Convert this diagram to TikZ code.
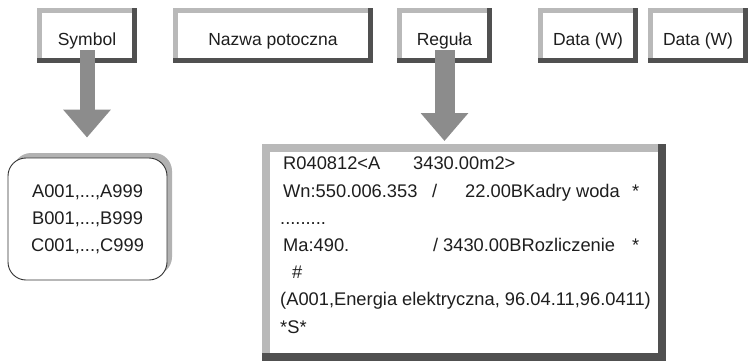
\documentclass[tikz,border=0pt]{standalone}
\usepackage{fontspec}
\setmainfont{Liberation Sans}
\usetikzlibrary{arrows.meta, positioning, shadows}
\definecolor{bevlight}{RGB}{185, 185, 185}
\definecolor{bevdark}{RGB}{80, 80, 80}
\definecolor{arrgray}{RGB}{140, 140, 140}
\definecolor{txtgray}{RGB}{30, 30, 30}

\begin{document}
\begin{tikzpicture}[x=1pt, y=-1pt,
      field/.style={
        rectangle, draw=bevlight, fill=white, line width=5pt, outer sep=0pt,
        minimum width=95pt, minimum height=50pt, inner sep=0pt,
        text height=20pt, text depth=0pt,
        font=\fontsize{17.5}{20}\selectfont, text=txtgray
      },
      bigfield/.style={
        rectangle, draw=bevlight, fill=white, line width=8pt, outer sep=0pt,
        minimum width=396pt, minimum height=209pt
      },
      listbox/.style={
        rectangle, rounded corners=18pt, draw=black!80, fill=white, line width=0.9pt,
        minimum width=159pt, minimum height=122pt, align=center,
        general shadow={fill=gray!60, shadow xshift=5pt, shadow yshift=5pt},
        font=\fontsize{18.3}{27}\selectfont, text=txtgray
      },
      regtext/.style={
        align=left, inner sep=0pt, font=\fontsize{18.3}{27.2}\selectfont, text=txtgray
      },
      edge5/.style={draw=bevdark, line width=5pt, line cap=rect},
      edge8/.style={draw=bevdark, line width=8pt, line cap=rect},
      downarr/.style={-{Triangle[length=28pt, width=46pt]}, draw=arrgray}
  ]
    \useasboundingbox (0,0) rectangle (749,361);

    % top row of fields
    \node[field] (sym) at (87,35.5) {Symbol};
    \node[field, minimum width=195pt] (naz) [right=41pt of sym] {Nazwa potoczna};
    \node[field, minimum width=90pt] (reg) [right=29pt of naz] {Reguła};
    \node[field] (dat1) [right=51pt of reg] {Data (W)};
    \node[field] (dat2) [right=15pt of dat1] {Data (W)};

    % symbol list and rule record
    \node[listbox] (syms) at (87.5,219) {A001,...,A999\\B001,...,B999\\C001,...,C999};
    \node[bigfield] (regbox) at (464,252.5) {};
    \node[regtext, anchor=north west] (regtxt) at (283,157) {%
      \makebox[130pt][l]{R040812<A}3430.00m2>\\
      \makebox[149pt][l]{Wn:550.006.353}\makebox[33pt][l]{/}\makebox[167pt][l]{22.00BKadry woda}*\\
      \hspace{-3pt}.........\\
      \makebox[150pt][l]{Ma:490.}\makebox[10pt][l]{/}\makebox[189pt][l]{3430.00BRozliczenie}*\\
      \hspace{9pt}\#\\
      \hspace{-3pt}(A001,Energia elektryczna, 96.04.11,96.0411)\\
      \hspace{-3pt}*S*};

    % dark lower and right edges
    \foreach \f in {sym,naz,reg,dat1,dat2}
      \draw[edge5] (\f.north east) -- (\f.south east) -- (\f.south west);
    \draw[edge8] (regbox.north east) -- (regbox.south east) -- (regbox.south west);

    \draw[downarr, line width=15pt, shorten <=15pt, shorten >=20pt] (sym.center) -- (sym.center |- syms.north);
    \draw[downarr, line width=20pt, shorten <=15pt, shorten >=7pt] (reg.center) -- (reg.center |- regbox.north);
  \end{tikzpicture}
\end{document}
